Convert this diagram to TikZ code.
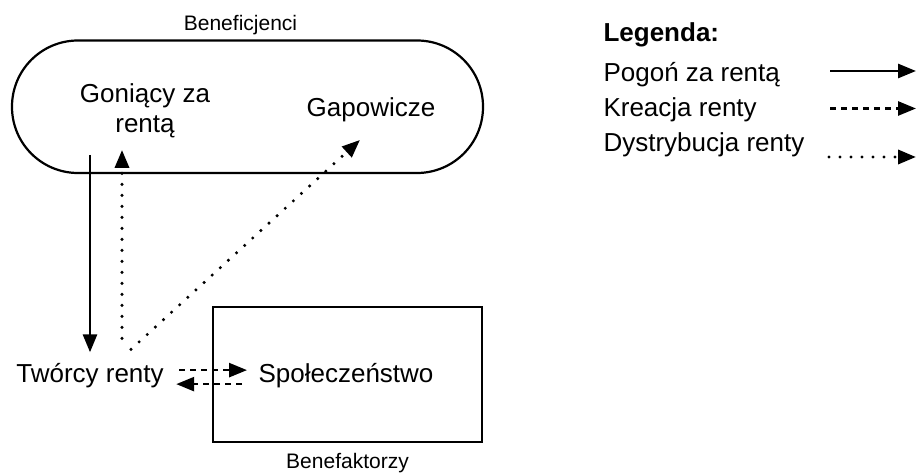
\documentclass[tikz,border=0pt]{standalone}
\usepackage{fontspec}
\setmainfont{Liberation Sans}
\usetikzlibrary{positioning,
	arrows.meta}

\tikzset{
	tipped/.style={-{Triangle[length=18pt,width=14pt]}},
	chase/.style={tipped, line width=2.8pt},
	create/.style={tipped, line width=2.6pt, dash pattern=on 6pt off 5pt},
	share/.style={tipped, line width=3.4pt, line cap=round, dash pattern=on 0pt off 11pt},
	bigtext/.style={font=\fontsize{26}{30}\selectfont},
	smalltext/.style={font=\fontsize{21}{25}\selectfont},
	frame/.style={draw, line width=2.2pt, inner sep=0pt}
}

\begin{document}
\begin{tikzpicture}[x=1pt, y=1pt]
		\useasboundingbox (0,0) rectangle (917,473);
		% groups
		\node [frame, rounded corners=66pt, minimum width=471pt, minimum height=132.5pt] (benef) at (247.5,366.25) {};
		\node [smalltext, above=1pt of benef, xshift=-7pt] (beneflabel) {Beneficjenci};
		\node [frame, minimum width=269pt, minimum height=135pt] (benefbox) at (347.5,98.5) {};
		\node [smalltext, below=7pt of benefbox] (benefboxlabel) {Benefaktorzy};
		% actors
		\node [bigtext, align=center] (goni) at (145,362.7) {Goniący za\\rentą};
		\node [bigtext, anchor=base] (gapo) at (371,356) {Gapowicze};
		\node [bigtext, anchor=base] (tworcy) at (90,90) {Twórcy renty};
		\node [bigtext, anchor=base] (spol) at (346,90) {Społeczeństwo};
		% flows
		\draw [chase] ([yshift=-14pt]goni.south -| tworcy.north) -- ([yshift=8pt]tworcy.north);
		\draw [share] ([xshift=32pt,yshift=22pt]tworcy.north) -- ([xshift=-23pt,yshift=-9pt]goni.south);
		\draw [share] ([xshift=41pt,yshift=11pt]tworcy.north) -- ([xshift=-11pt,yshift=-14pt]gapo.south);
		\draw [create] ([xshift=12pt,yshift=6pt]tworcy.east) -- ([xshift=-8pt,yshift=6pt]spol.west);
		\draw [create] ([xshift=-13pt,yshift=-8pt]spol.west) -- ([xshift=9pt,yshift=-8pt]tworcy.east);
		% legend
		\node [font=\fontsize{26}{30}\selectfont\bfseries, anchor=base west] (legenda) at (600,431) {Legenda:};
		\node [bigtext, anchor=base west] (pogon) at (600,391) {Pogoń za rentą};
		\node [bigtext, anchor=base west] (kreacja) at (600,356) {Kreacja renty};
		\node [bigtext, anchor=base west] (dystr) at (600,321) {Dystrybucja renty};
		\coordinate (pogonA) at (830,402);
		\coordinate (pogonB) at (916,402);
		\coordinate (kreacjaA) at (830,364.5);
		\coordinate (kreacjaB) at (916,364.5);
		\coordinate (dystrA) at (829,316);
		\coordinate (dystrB) at (916,316);
		\draw [chase] (pogonA) -- (pogonB);
		\draw [create] (kreacjaA) -- (kreacjaB);
		\draw [share] (dystrA) -- (dystrB);
	\end{tikzpicture}
\end{document}
